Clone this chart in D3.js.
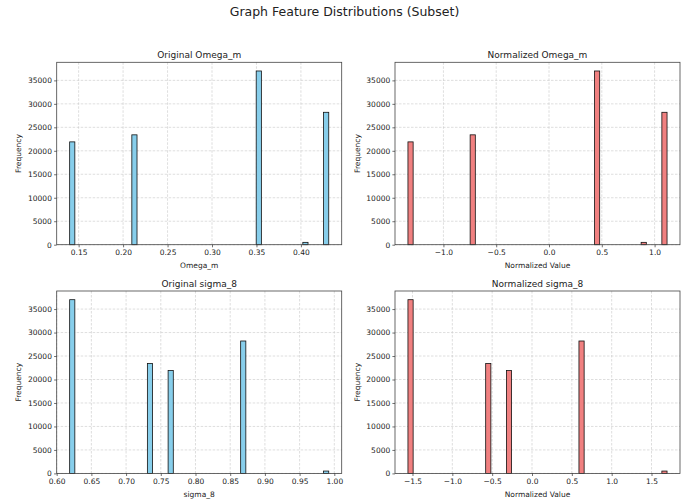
<!DOCTYPE html>
<html>
<head>
<meta charset="utf-8">
<script src="https://cdn.jsdelivr.net/npm/d3@7"></script>
<style>
  body { margin: 0; background: #fff; }
  text { font-family: "DejaVu Sans", sans-serif; fill: #222; }
</style>
</head>
<body>
<div id="chart"></div>
<script>
// values (distinct values and how many rows sit on each)
var omegaValues     = [0.1399, 0.2114, 0.3511, 0.4030, 0.4313];
var omegaCounts     = [21900, 23400, 37000, 500, 28200];
var omegaNormValues = [-1.336, -0.72, 0.45, 0.90, 1.118];

var sigmaValues     = [0.6187, 0.7340, 0.7640, 0.8680, 0.9920];
var sigmaCounts     = [37000, 23400, 21900, 28200, 500];
var sigmaNormValues = [-1.557, -0.55, -0.29, 0.62, 1.695];

var binCount = 50;

// tick labels
var omegaTicks     = [0.15, 0.20, 0.25, 0.30, 0.35, 0.40];
var omegaNormTicks = [-1.0, -0.5, 0.0, 0.5, 1.0];
var sigmaTicks     = [0.60, 0.65, 0.70, 0.75, 0.80, 0.85, 0.90, 0.95, 1.00];
var sigmaNormTicks = [-1.5, -1.0, -0.5, 0.0, 0.5, 1.0, 1.5];
var freqTicks      = [0, 5000, 10000, 15000, 20000, 25000, 30000, 35000];

var W = 689, H = 501;
var svg = d3.select("#chart").append("svg")
    .attr("width", W).attr("height", H);

svg.append("text")
   .attr("x", W/2).attr("y", 16)
   .attr("text-anchor", "middle")
   .style("font-size", "12.5px")
   .text("Graph Feature Distributions (Subset)");

var panels = [
  {title: "Original Omega_m",   xlabel: "Omega_m",          values: omegaValues,     counts: omegaCounts, ticks: omegaTicks,     fmt: ".2f", color: "#87CEEB", left: 56.7, top: 62.3},
  {title: "Normalized Omega_m", xlabel: "Normalized Value", values: omegaNormValues, counts: omegaCounts, ticks: omegaNormTicks, fmt: ".1f", color: "#F08080", left: 395,  top: 62.3},
  {title: "Original sigma_8",   xlabel: "sigma_8",          values: sigmaValues,     counts: sigmaCounts, ticks: sigmaTicks,     fmt: ".2f", color: "#87CEEB", left: 56.7, top: 291},
  {title: "Normalized sigma_8", xlabel: "Normalized Value", values: sigmaNormValues, counts: sigmaCounts, ticks: sigmaNormTicks, fmt: ".1f", color: "#F08080", left: 395,  top: 291}
];

var pw = 285, ph = 182.4;

panels.forEach(function(p) {
  var lo = d3.min(p.values), hi = d3.max(p.values);
  var step = (hi - lo) / binCount;

  // put every value into its bin
  var bins = d3.range(binCount).map(function(i) {
    return {x0: lo + i*step, x1: lo + (i+1)*step, n: 0};
  });
  p.values.forEach(function(v, k) {
    var i = Math.min(binCount - 1, Math.floor((v - lo) / step + 1e-9));
    bins[i].n += p.counts[k];
  });

  var pad = (hi - lo) * 0.05;
  var x = d3.scaleLinear().domain([lo - pad, hi + pad]).range([0, pw]);
  var y = d3.scaleLinear().domain([0, d3.max(bins, function(d){ return d.n; }) * 1.05]).range([ph, 0]);

  var g = svg.append("g").attr("transform", "translate(" + p.left + "," + p.top + ")");

  // grid
  g.append("g").selectAll("line.gx")
    .data(p.ticks).enter().append("line")
    .attr("x1", function(d){ return x(d); }).attr("x2", function(d){ return x(d); })
    .attr("y1", 0).attr("y2", ph)
    .attr("stroke", "#c8c8c8").attr("stroke-width", 0.6).attr("stroke-dasharray", "2.5,1.5");
  g.append("g").selectAll("line.gy")
    .data(freqTicks).enter().append("line")
    .attr("x1", 0).attr("x2", pw)
    .attr("y1", function(d){ return y(d); }).attr("y2", function(d){ return y(d); })
    .attr("stroke", "#c8c8c8").attr("stroke-width", 0.6).attr("stroke-dasharray", "2.5,1.5");

  // bars
  g.append("g").selectAll("rect")
    .data(bins).enter().append("rect")
    .attr("x", function(d){ return x(d.x0); })
    .attr("width", function(d){ return x(d.x1) - x(d.x0); })
    .attr("y", function(d){ return y(d.n); })
    .attr("height", function(d){ return y(0) - y(d.n); })
    .attr("fill", p.color)
    .attr("stroke", "#111")
    .attr("stroke-width", 0.8);

  // frame
  g.append("rect").attr("width", pw).attr("height", ph)
    .attr("fill", "none").attr("stroke", "#444").attr("stroke-width", 0.8);

  var xa = g.append("g").attr("transform", "translate(0," + ph + ")")
    .call(d3.axisBottom(x).tickValues(p.ticks).tickFormat(d3.format(p.fmt)).tickSize(2.6).tickPadding(2.8));
  var ya = g.append("g")
    .call(d3.axisLeft(y).tickValues(freqTicks).tickFormat(d3.format("d")).tickSize(2.6).tickPadding(2.2));
  [xa, ya].forEach(function(a) {
    a.select(".domain").remove();
    a.selectAll("line").attr("stroke", "#333").attr("stroke-width", 0.7);
    a.selectAll("text").style("font-size", "7.5px").style("font-family", "DejaVu Sans").attr("fill", "#222");
  });

  g.append("text").attr("x", pw/2).attr("y", -4.5)
    .attr("text-anchor", "middle").style("font-size", "9px").text(p.title);
  g.append("text").attr("x", pw/2).attr("y", ph + 23.5)
    .attr("text-anchor", "middle").style("font-size", "7.5px").text(p.xlabel);
  g.append("text")
    .attr("transform", "translate(-35.5," + (ph/2) + ") rotate(-90)")
    .attr("text-anchor", "middle").style("font-size", "7.5px").text("Frequency");
});
</script>
</body>
</html>
